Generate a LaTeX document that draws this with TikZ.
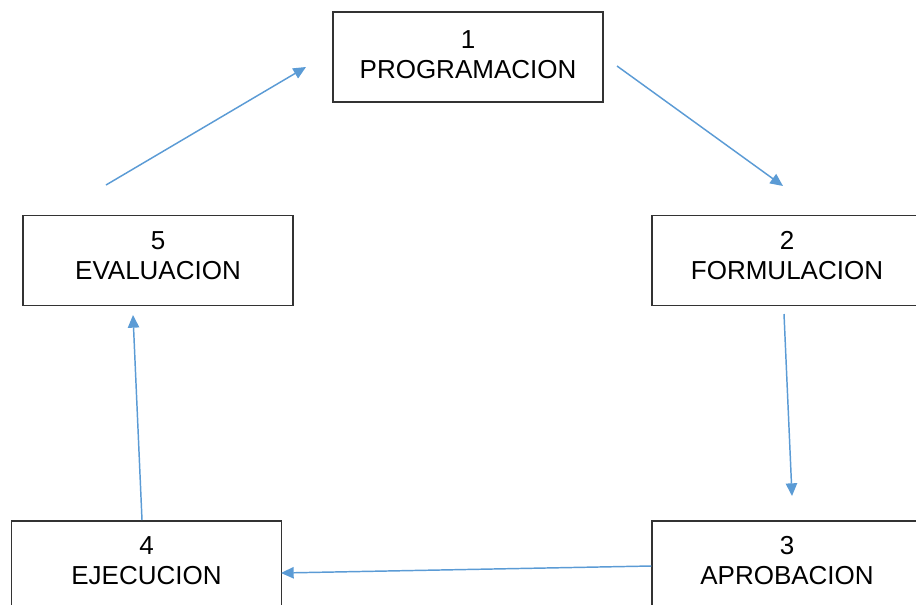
\documentclass[tikz,border=0pt]{standalone}
\usepackage{fontspec}
\setmainfont{Liberation Sans}
\usepackage{xcolor}
\usetikzlibrary{arrows.meta, positioning}

\definecolor{flowblue}{HTML}{5B9BD5}
\definecolor{boxgray}{HTML}{333333}

\begin{document}
\begin{tikzpicture}[x=0.75pt, y=-0.75pt,
    box/.style={draw=boxgray, line width=1pt, rectangle, minimum width=202.5pt, minimum height=67.5pt,
        align=center, inner sep=0pt, text depth=8pt, font=\fontsize{19.5}{22.5}\selectfont},
    flow/.style={draw=flowblue, line width=1.1pt, -{Triangle[length=9.5pt, width=8.5pt]}}]
    \useasboundingbox (0,0) rectangle (916,604);

    % the five stages
    \node[box, text depth=3pt] (prog) at (468,57) {1\\PROGRAMACION};
    \node[box] (form) at (787,260.5) {2\\FORMULACION};
    \node[box] (apro) at (787,566) {3\\APROBACION};
    \node[box] (ejec) at (146.5,566) {4\\EJECUCION};
    \node[box] (eval) at (158,260.5) {5\\EVALUACION};

    % free ends of the arrows
    \coordinate (s12) at (617,66);
    \coordinate (t12) at (783,186);
    \coordinate (s23) at (784,314);
    \coordinate (t23) at (792,496);
    \coordinate (t34) at (281,573);
    \coordinate (s45) at (142,520);
    \coordinate (t45) at (133,315);
    \coordinate (s51) at (106,185);
    \coordinate (t51) at (306,67);

    % cycle
    \draw[flow] (s12) -- (t12);
    \draw[flow] (s23) -- (t23);
    \draw[flow] (apro.west) -- (t34);
    \draw[flow] (s45) -- (t45);
    \draw[flow] (s51) -- (t51);
\end{tikzpicture}
\end{document}
